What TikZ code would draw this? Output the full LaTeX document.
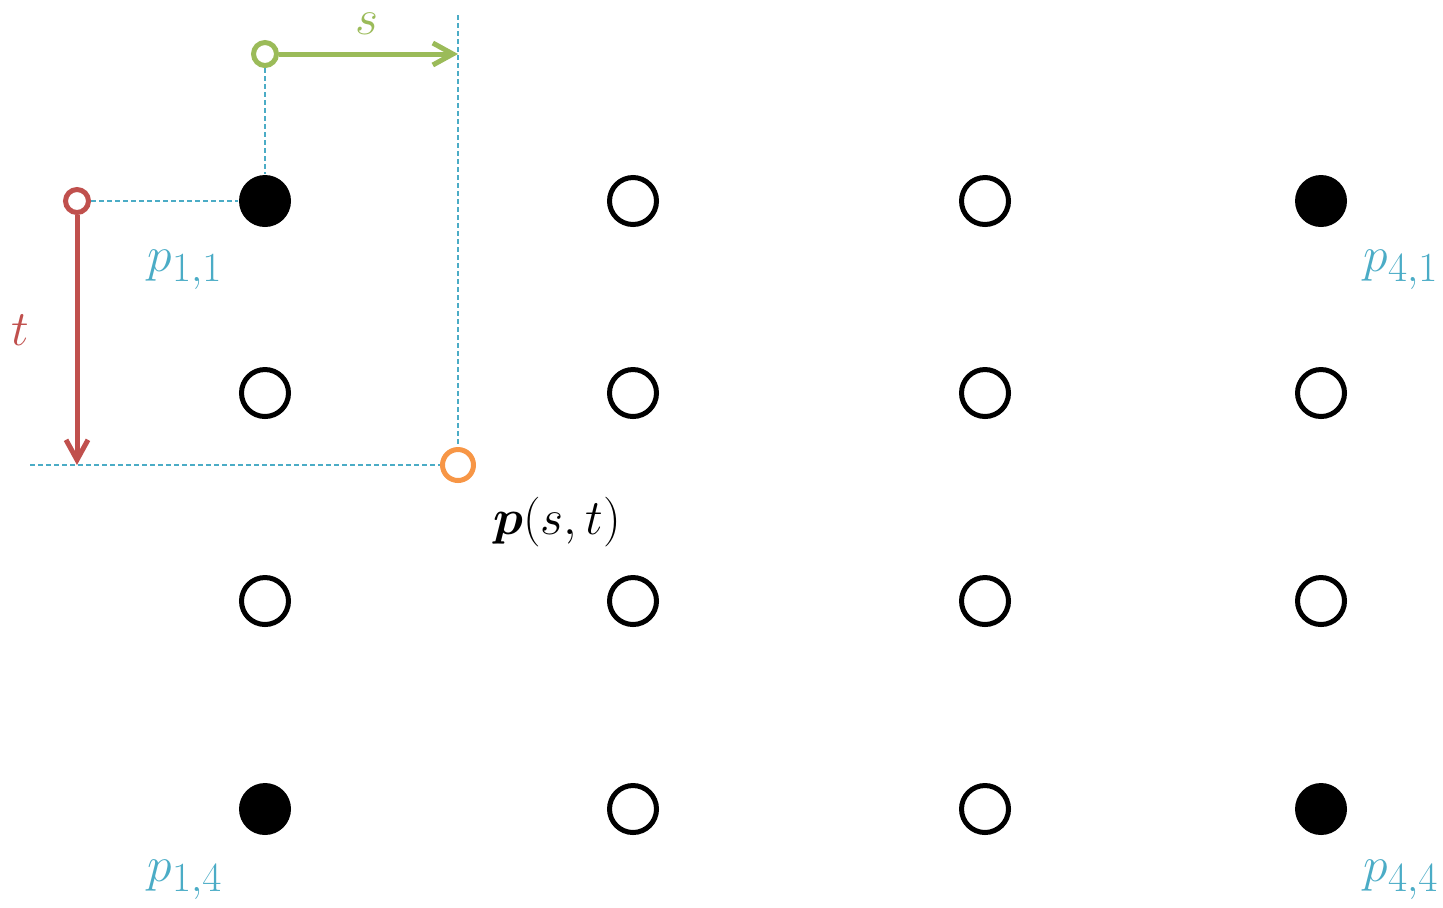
\documentclass[tikz,border=0pt]{standalone}
\definecolor{mygreen}{RGB}{155, 187, 89}
\definecolor{myred}{RGB}{192, 80, 77}
\definecolor{myorange}{RGB}{247, 150, 70}
\definecolor{myblue}{RGB}{75, 172, 198}
\usepackage{amsmath}
\usepackage{bm}
\usepackage{tikz}
\usetikzlibrary{arrows.meta}
\tikzset{every picture/.style={line width=0.75pt}}
\tikzset{
  openpt/.style={circle, draw=black, line width=2.5pt, minimum size=23.5pt, inner sep=0pt},
  fullpt/.style={circle, fill=black, minimum size=26pt, inner sep=0pt},
  smallpt/.style={circle, draw=#1, fill=white, line width=2.5pt, minimum size=11.5pt, inner sep=0pt},
  guide/.style={draw=myblue, line width=0.75pt, dash pattern=on 2.5pt off 1.5pt},
  param/.style={line width=2.5pt, -{Straight Barb[length=10pt, width=11pt, line width=2.5pt]}},
  lbl/.style={font=\fontsize{24.88}{30}\selectfont, inner sep=0pt}
}

\begin{document}
\begin{tikzpicture}[x=0.5pt,y=0.5pt,yscale=-1,xscale=1]
\useasboundingbox (0,0) rectangle (1443,907);

%control points
\node [fullpt] (p11) at (265,201) {};
\node [openpt] (p21) at (633,201) {};
\node [openpt] (p31) at (985,201) {};
\node [fullpt] (p41) at (1321,201) {};
\node [openpt] (p12) at (265,393) {};
\node [openpt] (p22) at (633,393) {};
\node [openpt] (p32) at (985,393) {};
\node [openpt] (p42) at (1321,393) {};
\node [openpt] (p13) at (265,601) {};
\node [openpt] (p23) at (633,601) {};
\node [openpt] (p33) at (985,601) {};
\node [openpt] (p43) at (1321,601) {};
\node [fullpt] (p14) at (265,809) {};
\node [openpt] (p24) at (633,809) {};
\node [openpt] (p34) at (985,809) {};
\node [fullpt] (p44) at (1321,809) {};

%corner labels
\node [lbl, text=myblue] (l11) at (185,270) {$p_{1,1}$};
\node [lbl, text=myblue] (l41) at (1401,270) {$p_{4,1}$};
\node [lbl, text=myblue] (l14) at (185,880) {$p_{1,4}$};
\node [lbl, text=myblue] (l44) at (1401,880) {$p_{4,4}$};

%parameter s
\node [smallpt=mygreen] (s0) at (265,54) {};
\coordinate (s1) at (458,54);
\coordinate (top) at (458,15);
\node [lbl, text=mygreen] (ls) at (367,24) {$s$};

%parameter t
\node [smallpt=myred] (t0) at (77,201) {};
\coordinate (t1) at (77,465);
\coordinate (left) at (30,465);
\node [lbl, text=myred] (lt) at (20,330) {$t$};

%surface point
\node [circle, draw=myorange, fill=white, line width=2.5pt, minimum size=15.5pt, inner sep=0pt] (pst) at (458,465) {};
\node [lbl] (lpst) at (557,522) {$\bm{p}(s,t)$};

%guides
\draw [guide] (s0) -- (p11);
\draw [guide] (t0) -- (p11);
\draw [guide] (top) -- (pst);
\draw [guide] (left) -- (pst);

%arrows
\draw [param, draw=mygreen] (s0) -- (s1);
\draw [param, draw=myred] (t0) -- (t1);
\end{tikzpicture}
\end{document}
